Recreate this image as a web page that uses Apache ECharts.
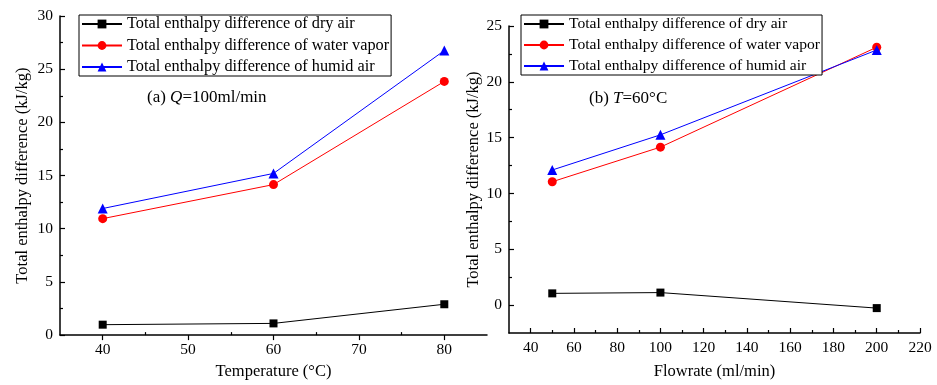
<!DOCTYPE html>
<html>
<head>
<meta charset="utf-8">
<title>Total enthalpy difference</title>
<script src="https://cdn.jsdelivr.net/npm/echarts@6/dist/echarts.min.js"></script>
<style>
  html, body { margin: 0; padding: 0; background: #fff; }
  #chart { width: 937px; height: 385px; }
</style>
</head>
<body>
<div id="chart"></div>
<script>
// (a) Q = 100 ml/min, x = temperature
const tempX = [40, 60, 80];
const dryAirA = [0.98, 1.1, 2.9];
const vaporA = [10.95, 14.15, 23.85];
const humidA = [11.9, 15.2, 26.75];

// (b) T = 60 °C, x = flowrate
const flowX = [50, 100, 200];
const dryAirB = [1.05, 1.12, -0.27];
const vaporB = [11.05, 14.15, 23.1];
const humidB = [12.1, 15.25, 22.85];

// tick labels
const tempTicks = [40, 50, 60, 70, 80];
const tempMinor = [45, 55, 65, 75];
const yTicksA = [0, 5, 10, 15, 20, 25, 30];
const yMinorA = [2.5, 7.5, 12.5, 17.5, 22.5, 27.5];
const flowTicks = [40, 60, 80, 100, 120, 140, 160, 180, 200, 220];
const flowMinor = [50, 70, 90, 110, 130, 150, 170, 190, 210];
const yTicksB = [0, 5, 10, 15, 20, 25];
const yMinorB = [2.5, 7.5, 12.5, 17.5, 22.5];

const NAMES = [
  'Total enthalpy difference of dry air',
  'Total enthalpy difference of water vapor',
  'Total enthalpy difference of humid air'
];
const FONT = 'Liberation Serif, Times New Roman, serif';

const chart = echarts.init(document.getElementById('chart'));

function pairs(xs, ys) {
  return xs.map((x, i) => [x, ys[i]]);
}

// main axis: line, labels, major ticks
function mainAxis(gridIndex, pos, min, max, ticks, tickInside, name, nameGap) {
  return {
    type: 'value',
    gridIndex,
    position: pos,
    min,
    max,
    name,
    nameLocation: 'middle',
    nameGap,
    nameTextStyle: { fontFamily: FONT, fontSize: 16.5, color: '#000' },
    axisLine: { show: true, onZero: false, lineStyle: { color: '#000', width: 1.5 } },
    axisTick: { show: true, inside: tickInside, length: 5, customValues: ticks, lineStyle: { color: '#000', width: 1.2 } },
    axisLabel: { customValues: ticks, fontFamily: FONT, fontSize: 15.5, color: '#000', margin: 7 },
    splitLine: { show: false }
  };
}

// overlay axis that only draws the short minor ticks
function minorAxis(gridIndex, pos, min, max, ticks) {
  return {
    type: 'value',
    gridIndex,
    position: pos,
    min,
    max,
    axisLine: { show: false, onZero: false },
    axisTick: { show: true, inside: true, length: 3, customValues: ticks, lineStyle: { color: '#000', width: 1.2 } },
    axisLabel: { show: false },
    splitLine: { show: false }
  };
}

function lineSeries(name, xi, yi, data, color, symbol, size) {
  return {
    name,
    type: 'line',
    xAxisIndex: xi,
    yAxisIndex: yi,
    data,
    symbol,
    symbolSize: size,
    lineStyle: { color, width: 1 },
    itemStyle: { color },
    animation: false
  };
}

const legendBase = {
  orient: 'vertical',
  itemWidth: 40,
  itemHeight: 11,
  itemGap: 5.5,
  padding: [1, 2, 1, 2],
  borderColor: '#000',
  borderWidth: 1,
  backgroundColor: '#fff',
  textStyle: { fontFamily: FONT, fontSize: 16.3, color: '#000' },
  data: NAMES
};

chart.setOption({
  backgroundColor: '#fff',
  animation: false,
  grid: [
    { left: 60, top: 16, width: 427, height: 319.5 },
    { left: 509, top: 26, width: 411, height: 307.5 }
  ],
  xAxis: [
    mainAxis(0, 'bottom', 35, 85, tempTicks, false, 'Temperature (°C)', 23),
    minorAxis(0, 'bottom', 35, 85, tempMinor),
    mainAxis(1, 'bottom', 30, 220, flowTicks, true, 'Flowrate (ml/min)', 30),
    minorAxis(1, 'bottom', 30, 220, flowMinor)
  ],
  yAxis: [
    mainAxis(0, 'left', 0, 30, yTicksA, true, 'Total enthalpy difference (kJ/kg)', 29),
    minorAxis(0, 'left', 0, 30, yMinorA),
    mainAxis(1, 'left', -2.5, 25, yTicksB, true, 'Total enthalpy difference (kJ/kg)', 26),
    minorAxis(1, 'left', -2.5, 25, yMinorB)
  ],
  legend: [
    Object.assign({}, legendBase, { left: 79, top: 15 }),
    Object.assign({}, legendBase, { left: 521, top: 15, itemGap: 5, textStyle: { fontFamily: FONT, fontSize: 15.6, color: '#000' } })
  ],
  graphic: [
    {
      type: 'text',
      left: 147,
      top: 89,
      style: {
        text: '(a) {i|Q}=100ml/min',
        font: '17px ' + FONT,
        fill: '#000',
        rich: { i: { fontStyle: 'italic', fontFamily: FONT, fontSize: 17 } }
      }
    },
    {
      type: 'text',
      left: 589,
      top: 90,
      style: {
        text: '(b) {i|T}=60°C',
        font: '17px ' + FONT,
        fill: '#000',
        rich: { i: { fontStyle: 'italic', fontFamily: FONT, fontSize: 17 } }
      }
    }
  ],
  series: [
    lineSeries(NAMES[0], 0, 0, pairs(tempX, dryAirA), '#000000', 'rect', 8),
    lineSeries(NAMES[1], 0, 0, pairs(tempX, vaporA), '#ff0000', 'circle', 9),
    lineSeries(NAMES[2], 0, 0, pairs(tempX, humidA), '#0000ff', 'triangle', 10),
    lineSeries(NAMES[0], 2, 2, pairs(flowX, dryAirB), '#000000', 'rect', 8),
    lineSeries(NAMES[1], 2, 2, pairs(flowX, vaporB), '#ff0000', 'circle', 9),
    lineSeries(NAMES[2], 2, 2, pairs(flowX, humidB), '#0000ff', 'triangle', 10)
  ]
});
</script>
</body>
</html>
